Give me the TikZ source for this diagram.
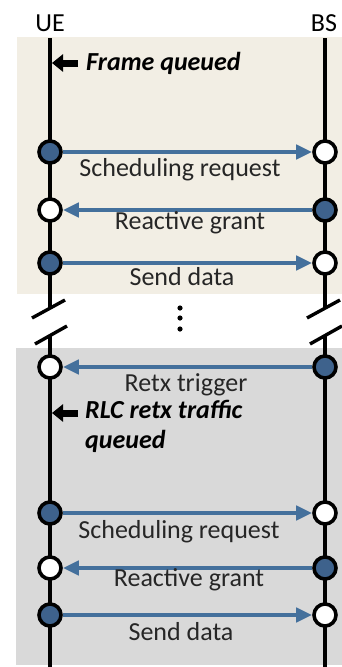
\documentclass[tikz,border=0pt]{standalone}
\usepackage{fontspec}
\setmainfont{Carlito}
\usetikzlibrary{arrows.meta}
\definecolor{sandbg}{RGB}{242,238,228}
\definecolor{greybg}{RGB}{217,217,217}
\definecolor{msgblue}{RGB}{68,112,156}
\definecolor{dotblue}{RGB}{62,98,140}
\tikzset{
  lifeline/.style={line width=3.4pt, black},
  breakmark/.style={line width=3.4pt, black},
  sent/.style={circle, draw=black, line width=3.6pt, fill=dotblue, minimum size=22pt, inner sep=0pt},
  recv/.style={circle, draw=black, line width=3.6pt, fill=white, minimum size=22pt, inner sep=0pt},
  msg/.style={line width=4pt, draw=msgblue, -{Triangle[length=16pt,width=14pt,fill=msgblue]}},
  msglabel/.style={font=\fontsize{26}{30}\selectfont, inner sep=0pt, text=black!85},
  party/.style={font=\fontsize{26}{30}\selectfont, inner sep=0pt},
  eventlabel/.style={font=\fontsize{26}{30}\selectfont\bfseries\itshape, inner sep=0pt, align=left},
  eventarrow/.style={line width=7pt, -{Triangle[length=11pt,width=17pt]}},
}
\begin{document}
\begin{tikzpicture}[x=1pt,y=-1pt]
\useasboundingbox (0,0) rectangle (342,667);

% phase backgrounds
\fill[sandbg] (17,37) rectangle (342,294);
\fill[greybg] (16,348) rectangle (342,665);

% party names
\node[party] (ue) at (50,23) {UE};
\node[party] (bs) at (324,23) {BS};

% lifelines with break marks
\coordinate (ueTop) at (50,38);   \coordinate (ueBrkA) at (50,308);
\coordinate (ueBrkB) at (50,335); \coordinate (ueBot) at (50,667);
\coordinate (bsTop) at (325,38);  \coordinate (bsBrkA) at (325,308);
\coordinate (bsBrkB) at (325,335); \coordinate (bsBot) at (325,667);
\draw[lifeline] (ueTop) -- (ueBrkA);
\draw[lifeline] (ueBrkB) -- (ueBot);
\draw[lifeline] (bsTop) -- (bsBrkA);
\draw[lifeline] (bsBrkB) -- (bsBot);
\draw[breakmark] (32,318) -- (65,300);
\draw[breakmark] (35,344) -- (67,326);
\draw[breakmark] (307,318) -- (340,300);
\draw[breakmark] (310,344) -- (342,326);

% ellipsis between the two phases
\foreach \yy in {308,318,329} \fill (180,\yy) circle (2.6);

% first phase
\coordinate (fqTail) at (78,63); \coordinate (fqTip) at (52,63);
\draw[eventarrow] (fqTail) -- (fqTip);
\node[eventlabel, anchor=west] (fq) at (86,63) {Frame queued};

\node[sent] (u1) at (50,152) {};  \node[recv] (b1) at (325,152) {};
\node[recv] (u2) at (50,210) {};  \node[sent] (b2) at (325,210) {};
\node[sent] (u3) at (50,263) {};  \node[recv] (b3) at (325,263) {};
\draw[msg] (u1) -- (b1);
\draw[msg] (b2) -- (u2);
\draw[msg] (u3) -- (b3);
\node[msglabel] (l1) at (180,170) {Scheduling request};
\node[msglabel] (l2) at (190,223) {Reactive grant};
\node[msglabel] (l3) at (182,277) {Send data};

% second phase
\node[recv] (u4) at (50,367) {};  \node[sent] (b4) at (325,367) {};
\draw[msg] (b4) -- (u4);
\node[msglabel] (l4) at (186,385) {Retx trigger};

\coordinate (rqTail) at (78,413); \coordinate (rqTip) at (52,413);
\draw[eventarrow] (rqTail) -- (rqTip);
\node[eventlabel, anchor=north west] (rq) at (85,400) {RLC retx traffic\\queued};

\node[sent] (u5) at (50,513) {};  \node[recv] (b5) at (325,513) {};
\node[recv] (u6) at (50,568) {};  \node[sent] (b6) at (325,568) {};
\node[sent] (u7) at (50,615) {};  \node[recv] (b7) at (325,615) {};
\draw[msg] (u5) -- (b5);
\draw[msg] (b6) -- (u6);
\draw[msg] (u7) -- (b7);
\node[msglabel] (l5) at (179,532) {Scheduling request};
\node[msglabel] (l6) at (189,580) {Reactive grant};
\node[msglabel] (l7) at (181,632) {Send data};
\end{tikzpicture}
\end{document}
